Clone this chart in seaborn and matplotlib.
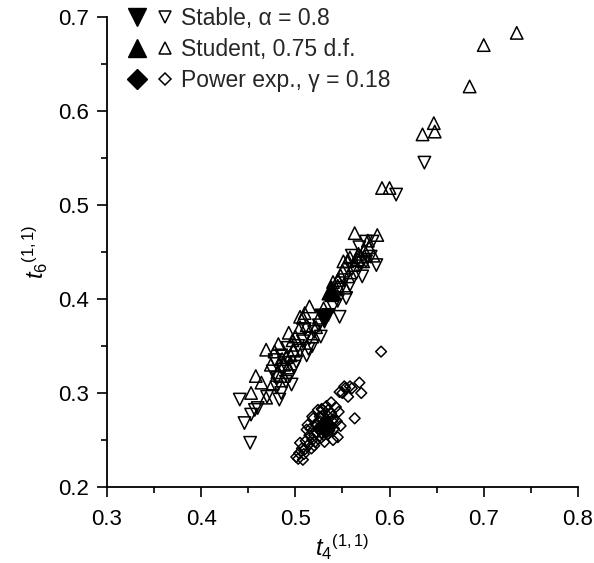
import matplotlib
matplotlib.use("Agg")
import matplotlib.pyplot as plt
import seaborn as sns
import pandas as pd
from matplotlib.legend_handler import HandlerTuple
from matplotlib.lines import Line2D

sns.set_theme(style="ticks")
plt.rcParams['font.family'] = ['Liberation Sans', 'DejaVu Sans']
plt.rcParams['mathtext.fontset'] = 'custom'
plt.rcParams['mathtext.rm'] = 'Liberation Sans'
plt.rcParams['mathtext.it'] = 'Liberation Sans:italic'

# Stable, alpha = 0.8 (open down triangles)
stable_x = [0.452, 0.441, 0.446, 0.453, 0.460, 0.457, 0.483, 0.485, 0.480, 0.496,
            0.490, 0.476, 0.487, 0.494, 0.501, 0.497, 0.485, 0.492, 0.512, 0.508,
            0.503, 0.515, 0.518, 0.520, 0.510, 0.525, 0.535, 0.547, 0.540, 0.545,
            0.554, 0.548, 0.558, 0.552, 0.565, 0.560, 0.570, 0.575, 0.586, 0.580,
            0.575, 0.582, 0.568, 0.637, 0.607, 0.478, 0.488, 0.505, 0.514, 0.499,
            0.470, 0.481, 0.527, 0.560, 0.571]
stable_y = [0.247, 0.293, 0.268, 0.277, 0.284, 0.282, 0.293, 0.300, 0.306, 0.309,
            0.312, 0.323, 0.325, 0.318, 0.333, 0.338, 0.340, 0.348, 0.340, 0.355,
            0.350, 0.358, 0.350, 0.365, 0.368, 0.372, 0.383, 0.381, 0.392, 0.398,
            0.401, 0.410, 0.415, 0.420, 0.428, 0.432, 0.438, 0.440, 0.436, 0.445,
            0.461, 0.461, 0.455, 0.545, 0.511, 0.335, 0.332, 0.345, 0.347, 0.328,
            0.296, 0.316, 0.360, 0.446, 0.424]

# Student, 0.75 d.f. (open up triangles)
student_x = [0.735, 0.700, 0.685, 0.647, 0.648, 0.635, 0.592, 0.600, 0.453, 0.464,
             0.469, 0.469, 0.478, 0.482, 0.486, 0.493, 0.490, 0.497, 0.505, 0.508,
             0.515, 0.512, 0.518, 0.500, 0.505, 0.522, 0.525, 0.538, 0.545, 0.550,
             0.555, 0.558, 0.563, 0.566, 0.570, 0.572, 0.587, 0.578, 0.548, 0.553,
             0.481, 0.476, 0.484, 0.492, 0.498, 0.530, 0.562, 0.556, 0.545, 0.583,
             0.573, 0.577, 0.567, 0.488, 0.495, 0.458, 0.474, 0.510, 0.540, 0.551]
student_y = [0.683, 0.670, 0.626, 0.587, 0.578, 0.575, 0.518, 0.518, 0.300, 0.311,
             0.295, 0.346, 0.344, 0.352, 0.336, 0.364, 0.338, 0.356, 0.381, 0.380,
             0.392, 0.372, 0.360, 0.360, 0.370, 0.370, 0.380, 0.404, 0.420, 0.430,
             0.440, 0.444, 0.470, 0.442, 0.445, 0.440, 0.468, 0.455, 0.425, 0.412,
             0.322, 0.310, 0.318, 0.327, 0.345, 0.390, 0.436, 0.424, 0.414, 0.446,
             0.452, 0.462, 0.448, 0.330, 0.340, 0.318, 0.330, 0.385, 0.418, 0.440]

# Power exp., gamma = 0.18 (open diamonds)
power_x = [0.591, 0.568, 0.558, 0.570, 0.547, 0.553, 0.556, 0.563, 0.545, 0.540,
           0.535, 0.529, 0.519, 0.512, 0.505, 0.501, 0.508, 0.504, 0.510, 0.514,
           0.518, 0.520, 0.523, 0.525, 0.527, 0.530, 0.532, 0.528, 0.533, 0.535,
           0.538, 0.540, 0.537, 0.526, 0.522, 0.516, 0.515, 0.511, 0.507, 0.503,
           0.509, 0.517, 0.521, 0.530, 0.534, 0.541, 0.546, 0.543, 0.538, 0.533,
           0.528, 0.524, 0.550, 0.548, 0.513, 0.518, 0.531, 0.544, 0.552, 0.560,
           0.526, 0.529, 0.533, 0.536, 0.524, 0.531, 0.535, 0.527, 0.520, 0.539]
power_y = [0.344, 0.311, 0.307, 0.300, 0.301, 0.305, 0.296, 0.273, 0.253, 0.250,
           0.268, 0.282, 0.273, 0.261, 0.247, 0.232, 0.229, 0.236, 0.240, 0.245,
           0.250, 0.255, 0.258, 0.262, 0.265, 0.268, 0.270, 0.258, 0.262, 0.275,
           0.278, 0.272, 0.265, 0.275, 0.266, 0.262, 0.255, 0.249, 0.241, 0.230,
           0.235, 0.241, 0.248, 0.255, 0.256, 0.262, 0.280, 0.285, 0.290, 0.286,
           0.283, 0.282, 0.300, 0.265, 0.266, 0.275, 0.248, 0.270, 0.307, 0.305,
           0.270, 0.276, 0.272, 0.260, 0.262, 0.260, 0.282, 0.252, 0.244, 0.270]

# Mean values (filled markers)
mean_x = [0.530, 0.5375, 0.531]
mean_y = [0.380, 0.410, 0.264]

legend_labels = ["Stable, \u03b1 = 0.8", "Student, 0.75 d.f.", "Power exp., \u03b3 = 0.18"]
markers = ["v", "^", "D"]

fig = plt.figure(figsize=(5.94, 5.63), dpi=100)
ax = fig.add_axes([0.180, 0.135, 0.793, 0.835])

open_kw = dict(facecolor="none", edgecolor="black", linewidth=1.1, ax=ax, legend=False)
sns.scatterplot(x=power_x, y=power_y, marker="D", s=30, **open_kw)
sns.scatterplot(x=stable_x, y=stable_y, marker="v", s=80, **open_kw)
sns.scatterplot(x=student_x, y=student_y, marker="^", s=80, **open_kw)
for mx, my, mk, sz in zip(mean_x, mean_y, markers, [180, 180, 120]):
    sns.scatterplot(x=[mx], y=[my], marker=mk, s=sz, color="black",
                    edgecolor="black", ax=ax, legend=False)

ax.set_xlim(0.3, 0.8)
ax.set_ylim(0.2, 0.7)
ax.set_xticks([0.3, 0.4, 0.5, 0.6, 0.7, 0.8])
ax.set_yticks([0.2, 0.3, 0.4, 0.5, 0.6, 0.7])
ax.set_xticks([0.35, 0.45, 0.55, 0.65, 0.75], minor=True)
ax.set_yticks([0.25, 0.35, 0.45, 0.55, 0.65], minor=True)
ax.set_xticklabels(["0.3", "0.4", "0.5", "0.6", "0.7", "0.8"])
ax.set_yticklabels(["0.2", "0.3", "0.4", "0.5", "0.6", "0.7"])
ax.tick_params(which="major", length=7, width=1.2, labelsize=16, color="black", labelcolor="black")
ax.tick_params(axis="x", which="major", pad=9)
ax.tick_params(axis="y", which="major", pad=6)
ax.tick_params(which="minor", length=4, width=1.2, color="black")
for s in ["top", "right"]:
    ax.spines[s].set_visible(False)
for s in ["left", "bottom"]:
    ax.spines[s].set_linewidth(1.3)
    ax.spines[s].set_color("black")

ax.set_xlabel(r"$t_{4}{}^{(1,1)}$", fontsize=17, labelpad=2, color="black")
ax.set_ylabel(r"$t_{6}{}^{(1,1)}$", fontsize=17, labelpad=6, color="black")

handles = []
for mk, fs, os_ in zip(markers, [13, 13, 10], [8, 8, 6]):
    h1 = Line2D([], [], marker=mk, linestyle="none", markersize=fs, color="black")
    h2 = Line2D([], [], marker=mk, linestyle="none", markersize=os_,
                markerfacecolor="none", markeredgecolor="black", markeredgewidth=1.1)
    handles.append((h1, h2))
ax.legend(handles, legend_labels, handler_map={tuple: HandlerTuple(ndivide=None, pad=0.6)},
          loc="upper left", bbox_to_anchor=(0.03, 1.04), frameon=False, fontsize=16.5,
          handlelength=1.8, handletextpad=0.4, labelspacing=0.34, borderaxespad=0.0)

fig.savefig("out.png", dpi=100)
